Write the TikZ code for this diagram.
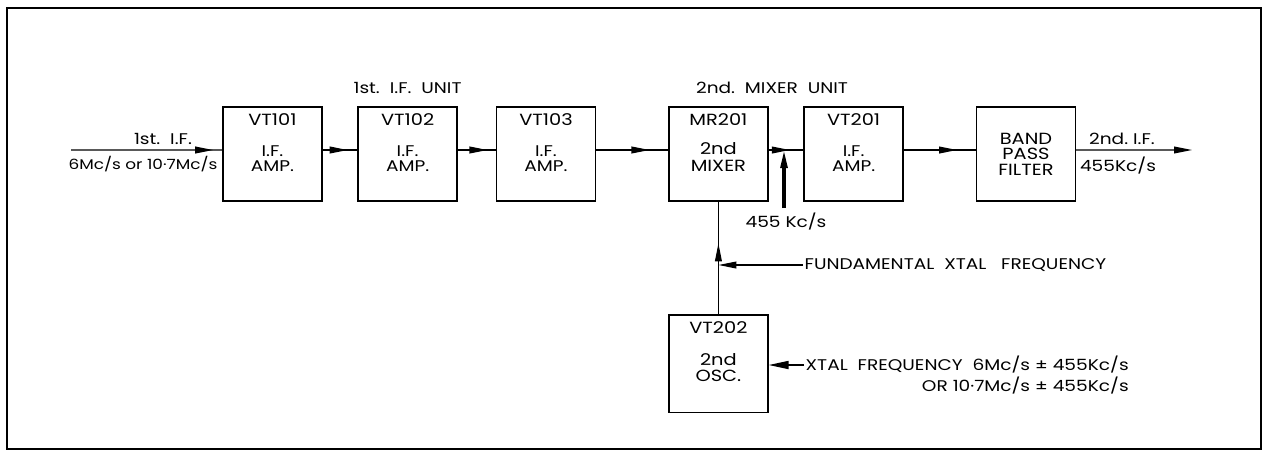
\documentclass[tikz,border=0pt]{standalone}
\usepackage{fontspec}
\setmainfont[FakeStretch=1.2]{Poppins}
\usetikzlibrary{arrows.meta,decorations.markings,positioning}

\begin{document}
\begin{tikzpicture}[every node/.style={align=center, font=\fontsize{11}{10.5}\selectfont}]
\tikzset{
  unit/.style={draw, line width=1pt, minimum width=2.475cm, minimum height=2.35cm},
  unitid/.style={font=\fontsize{11.5}{11.5}\selectfont},
  sig/.style={line width=0.9pt},
  tip/.style={-{Triangle[length=4.5mm,width=1.7mm]}},
  midtip/.style={postaction={decorate}, decoration={markings, mark=at position #1 with {\arrow{Triangle[length=4.5mm,width=1.7mm]}}}}
}
\useasboundingbox (0,0) rectangle (31.575,-11.275);
\draw[line width=1.4pt] (0.175,-0.2) rectangle (31.525,-11.225);

\node[unit] (vt101) at (6.81,-3.85) {};
\node[unit] (vt102) at (10.19,-3.85) {};
\node[unit] (vt103) at (13.65,-3.85) {};
\node[unit] (mixer) at (17.96,-3.85) {};
\node[unit] (vt201) at (21.34,-3.85) {};
\node[unit] (bpf) at (25.65,-3.85) {};
\node[unit, minimum height=2.43cm] (osc) at (17.96,-9.09) {};

\node[unitid] at ([yshift=-0.33cm]vt101.north) {VT101};
\node at ([yshift=-0.11cm]vt101.center) {I.F.\\AMP.};
\node[unitid] at ([yshift=-0.33cm]vt102.north) {VT102};
\node at ([yshift=-0.11cm]vt102.center) {I.F.\\AMP.};
\node[unitid] at ([yshift=-0.33cm]vt103.north) {VT103};
\node at ([yshift=-0.11cm]vt103.center) {I.F.\\AMP.};
\node[unitid] at ([yshift=-0.33cm]mixer.north) {MR201};
\node[font=\fontsize{11.5}{12}\selectfont] at ([yshift=-0.07cm]mixer.center) {2nd\\MIXER};
\node[unitid] at ([yshift=-0.33cm]vt201.north) {VT201};
\node at ([yshift=-0.11cm]vt201.center) {I.F.\\AMP.};
\node[font=\fontsize{11.5}{11}\selectfont] at (bpf.center) {BAND\\PASS\\FILTER};
\node[unitid] at ([yshift=-0.33cm]osc.north) {VT202};
\node[font=\fontsize{11.5}{12}\selectfont] at ([yshift=-0.1cm]osc.center) {2nd\\OSC.};

% main signal path
\coordinate (in) at (1.775,-3.75);
\coordinate (out) at (29.8,-3.75);
\draw[sig, midtip=0.94] (in) -- ([yshift=1mm]vt101.west);
\draw[sig, midtip=0.72] ([yshift=1mm]vt101.east) -- ([yshift=1mm]vt102.west);
\draw[sig, midtip=0.78] ([yshift=1mm]vt102.east) -- ([yshift=1mm]vt103.west);
\draw[sig, midtip=0.74] ([yshift=1mm]vt103.east) -- ([yshift=1mm]mixer.west);
\draw[sig, midtip=0.61] ([yshift=1mm]mixer.east) -- ([yshift=1mm]vt201.west);
\draw[sig, midtip=0.74] ([yshift=1mm]vt201.east) -- ([yshift=1mm]bpf.west);
\draw[sig, tip] ([yshift=1mm]bpf.east) -- (out);

\node (inlbl) at (4.075,-3.47) {1st.\ \ I.F.};
\node[font=\fontsize{10}{10}\selectfont] (infreq) at (3.575,-4.1) {6Mc/s or 10·7Mc/s};
\node (outlbl) at (28.05,-3.47) {2nd.\ I.F.};
\node (outfreq) at (27.95,-4.15) {455Kc/s};
\node (ifunit) at (10.19,-2.2) {1st.\ \ I.F.\ \ UNIT};
\node (mixunit) at (19.3,-2.2) {2nd.\ \ MIXER\ \ UNIT};

% 455 Kc/s injection
\coordinate (inj) at (19.6,-5.2);
\coordinate (injtip) at (19.6,-3.75);
\draw[line width=2.2pt, tip] (inj) -- (injtip);
\node (injlbl) at (19.65,-5.55) {455 Kc/s};

% oscillator feed
\draw[sig, midtip=0.63] (osc.north) -- (mixer.south);
\node[anchor=west, inner sep=1pt] (fundtxt) at (20.075,-6.625) {FUNDAMENTAL\ \ XTAL\ \ \ FREQUENCY};
\draw[sig, tip] (fundtxt.west) -- (osc.north |- fundtxt.west);
\node[anchor=west, inner sep=1pt] (xtal1) at (20.1,-9.125) {XTAL\ \ FREQUENCY\ \ 6Mc/s ± 455Kc/s};
\node[anchor=north east, inner sep=1pt] (xtal2) at (xtal1.south east) {OR 10·7Mc/s ± 455Kc/s};
\draw[line width=1.2pt, -{Triangle[length=5mm,width=2mm]}] (xtal1.west) -- (osc.east |- xtal1.west);
\end{tikzpicture}
\end{document}
